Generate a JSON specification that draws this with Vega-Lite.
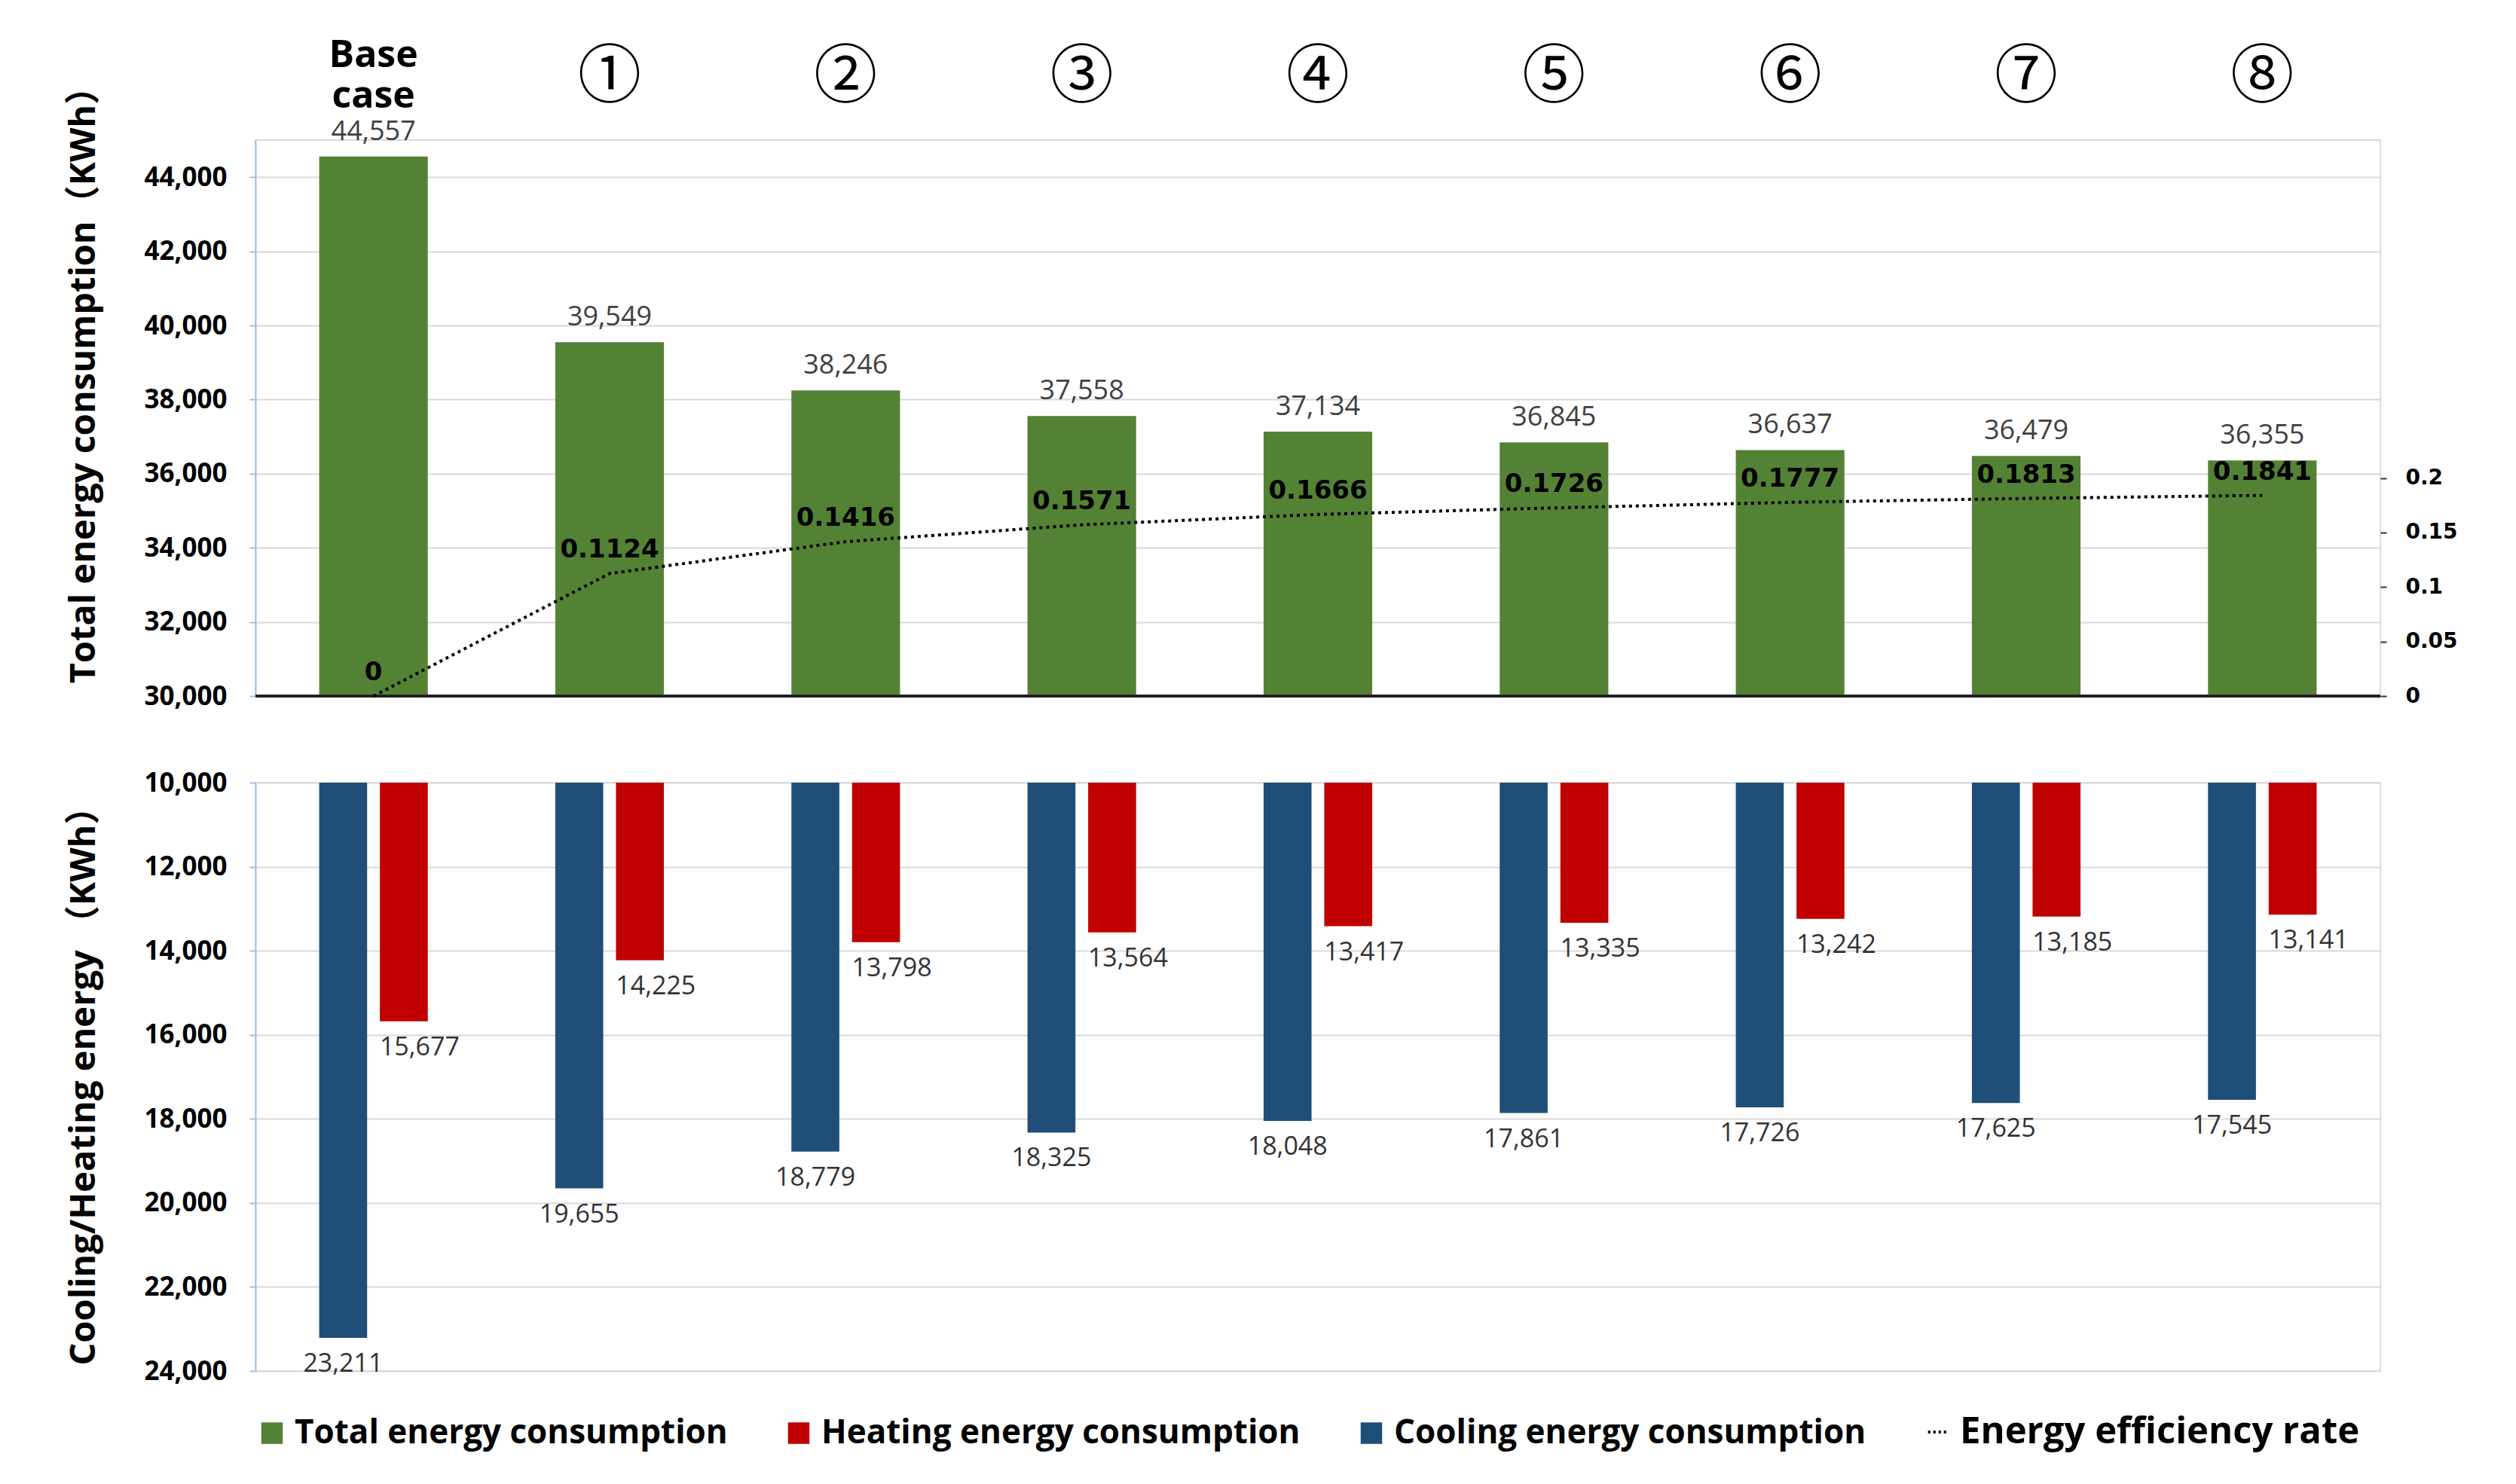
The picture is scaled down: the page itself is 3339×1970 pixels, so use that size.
{
  "$schema": "https://vega.github.io/schema/vega-lite/v6.json",
  "background": "white",
  "padding": {"left": 86, "top": 47, "right": 30, "bottom": 20},
  "bounds": "flush",
  "spacing": 115,
  "datasets": {
    "total": [
      {"case": "Base case", "total": 44557, "eff": 0},
      {"case": "①", "total": 39549, "eff": 0.1124},
      {"case": "②", "total": 38246, "eff": 0.1416},
      {"case": "③", "total": 37558, "eff": 0.1571},
      {"case": "④", "total": 37134, "eff": 0.1666},
      {"case": "⑤", "total": 36845, "eff": 0.1726},
      {"case": "⑥", "total": 36637, "eff": 0.1777},
      {"case": "⑦", "total": 36479, "eff": 0.1813},
      {"case": "⑧", "total": 36355, "eff": 0.1841}
    ],
    "ch": [
      {"case": "Base case", "type": "Cooling energy consumption", "value": 23211},
      {"case": "Base case", "type": "Heating energy consumption", "value": 15677},
      {"case": "①", "type": "Cooling energy consumption", "value": 19655},
      {"case": "①", "type": "Heating energy consumption", "value": 14225},
      {"case": "②", "type": "Cooling energy consumption", "value": 18779},
      {"case": "②", "type": "Heating energy consumption", "value": 13798},
      {"case": "③", "type": "Cooling energy consumption", "value": 18325},
      {"case": "③", "type": "Heating energy consumption", "value": 13564},
      {"case": "④", "type": "Cooling energy consumption", "value": 18048},
      {"case": "④", "type": "Heating energy consumption", "value": 13417},
      {"case": "⑤", "type": "Cooling energy consumption", "value": 17861},
      {"case": "⑤", "type": "Heating energy consumption", "value": 13335},
      {"case": "⑥", "type": "Cooling energy consumption", "value": 17726},
      {"case": "⑥", "type": "Heating energy consumption", "value": 13242},
      {"case": "⑦", "type": "Cooling energy consumption", "value": 17625},
      {"case": "⑦", "type": "Heating energy consumption", "value": 13185},
      {"case": "⑧", "type": "Cooling energy consumption", "value": 17545},
      {"case": "⑧", "type": "Heating energy consumption", "value": 13141}
    ]
  },
  "config": {
    "view": {"stroke": "#d9dde3", "strokeWidth": 2},
    "font": "Open Sans",
    "axis": {"gridColor": "#d9d9d9", "gridWidth": 2}
  },
  "vconcat": [
    {
      "width": 2820,
      "height": 738,
      "data": {"name": "total"},
      "layer": [
        {
          "layer": [
            {
              "mark": {"type": "bar"},
              "encoding": {
                "x": {
                  "field": "case", "type": "nominal", "sort": null,
                  "scale": {"paddingInner": 0.54, "paddingOuter": 0.27},
                  "axis": {
                    "orient": "top", "domain": false, "ticks": false, "grid": false, "title": null,
                    "labelAngle": 0,
                    "labelFont": "Open Sans, Noto Sans CJK JP",
                    "labelFontSize": {"condition": {"test": "datum.value === 'Base case'", "value": 50}, "value": 84},
                    "labelFontWeight": {"condition": {"test": "datum.value === 'Base case'", "value": "bold"}, "value": "normal"},
                    "labelPadding": {"condition": {"test": "datum.value === 'Base case'", "value": 88}, "value": 40},
                    "labelColor": "#000",
                    "labelExpr": "datum.value === 'Base case' ? ['Base','case'] : datum.value",
                    "labelLineHeight": 54
                  }
                },
                "y": {
                  "field": "total", "type": "quantitative",
                  "scale": {"domain": [30000, 45000], "zero": false, "nice": false},
                  "axis": {
                    "values": [30000, 32000, 34000, 36000, 38000, 40000, 42000, 44000],
                    "labelExpr": "format(datum.value, ',')",
                    "domainColor": "#9dc3e6", "domainWidth": 2,
                    "tickColor": "#9dc3e6", "tickSize": 8, "tickWidth": 2,
                    "labelFontSize": 35, "labelFontWeight": "bold", "labelColor": "#000", "labelPadding": 30,
                    "title": "Total energy consumption（KWh）",
                    "titleFont": "Open Sans, Noto Sans CJK SC", "titleFontSize": 47, "titleFontWeight": "bold", "titleColor": "#000",
                    "titlePadding": 55, "titleY": 313
                  }
                },
                "y2": {"datum": 30000},
                "color": {
                  "datum": "Total energy consumption",
                  "scale": {
                    "domain": ["Total energy consumption", "Heating energy consumption", "Cooling energy consumption", "Energy efficiency rate"],
                    "range": ["#548235", "#C00000", "#1F4E79", "#000000"]
                  }
                }
              }
            },
            {
              "mark": {"type": "text", "baseline": "bottom", "dy": -14, "fontSize": 36, "color": "#404040"},
              "encoding": {
                "x": {"field": "case", "type": "nominal", "sort": null},
                "y": {"field": "total", "type": "quantitative"},
                "text": {"field": "total", "format": ","}
              }
            },
            {
              "mark": {"type": "rule", "color": "#222", "strokeWidth": 3},
              "encoding": {"y": {"datum": 30000}}
            }
          ]
        },
        {
          "layer": [
            {
              "mark": {"type": "line", "strokeDash": [4, 5], "strokeWidth": 4},
              "encoding": {
                "x": {"field": "case", "type": "nominal", "sort": null},
                "y": {
                  "field": "eff", "type": "quantitative",
                  "scale": {"domain": [0, 0.51], "nice": false, "zero": true},
                  "axis": {
                    "orient": "right", "values": [0, 0.05, 0.1, 0.15, 0.2],
                    "labelExpr": "format(datum.value, '~g')",
                    "grid": false, "domain": false,
                    "tickColor": "#333", "tickSize": 8, "tickWidth": 2,
                    "labelFont": "DejaVu Sans", "labelFontSize": 28, "labelFontWeight": "bold", "labelColor": "#000",
                    "labelPadding": 25, "title": null
                  }
                },
                "color": {"datum": "Energy efficiency rate"}
              }
            },
            {
              "mark": {"type": "text", "baseline": "bottom", "dy": -14, "font": "DejaVu Sans", "fontSize": 34, "fontWeight": "bold", "color": "#000"},
              "encoding": {
                "x": {"field": "case", "type": "nominal", "sort": null},
                "y": {"field": "eff", "type": "quantitative"},
                "text": {"field": "eff", "format": "~g"}
              }
            }
          ]
        }
      ],
      "resolve": {"scale": {"y": "independent"}}
    },
    {
      "width": 2820,
      "height": 781,
      "data": {"name": "ch"},
      "encoding": {
        "x": {
          "field": "case", "type": "nominal", "sort": null,
          "scale": {"paddingInner": 0.54, "paddingOuter": 0.27},
          "axis": null
        },
        "xOffset": {
          "field": "type", "type": "nominal",
          "sort": ["Cooling energy consumption", "Heating energy consumption"],
          "scale": {"paddingInner": 0.21, "paddingOuter": 0}
        },
        "y": {
          "field": "value", "type": "quantitative",
          "scale": {"domain": [10000, 24000], "reverse": true, "nice": false, "zero": false},
          "axis": {
            "values": [10000, 12000, 14000, 16000, 18000, 20000, 22000, 24000],
            "labelExpr": "format(datum.value, ',')",
            "domainColor": "#9dc3e6", "domainWidth": 2,
            "tickColor": "#9dc3e6", "tickSize": 8, "tickWidth": 2,
            "labelFontSize": 35, "labelFontWeight": "bold", "labelColor": "#000", "labelPadding": 30,
            "title": "Cooling/Heating energy （KWh）",
            "titleFont": "Open Sans, Noto Sans CJK SC", "titleFontSize": 47, "titleFontWeight": "bold", "titleColor": "#000",
            "titlePadding": 55
          }
        }
      },
      "layer": [
        {
          "mark": {"type": "bar"},
          "encoding": {
            "y2": {"datum": 10000},
            "color": {
              "field": "type", "type": "nominal",
              "scale": {
                "domain": ["Total energy consumption", "Heating energy consumption", "Cooling energy consumption", "Energy efficiency rate"],
                "range": ["#548235", "#C00000", "#1F4E79", "#000000"]
              },
              "legend": {
                "orient": "bottom", "direction": "horizontal", "columns": 4, "title": null,
                "symbolSize": 600, "symbolType": "square",
                "labelFontSize": 44, "labelFontWeight": "bold", "labelColor": "#000", "labelLimit": 0,
                "labelOffset": 8, "columnPadding": 72, "offset": 40,
                "encode": {
                  "labels": {
                    "update": {
                      "fontSize": {"signal": "datum.value === 'Energy efficiency rate' ? 49 : 44"}
                    }
                  },
                  "symbols": {
                    "update": {
                      "shape": {"signal": "datum.value === 'Energy efficiency rate' ? 'stroke' : 'square'"},
                      "fill": {"signal": "datum.value === 'Energy efficiency rate' ? 'transparent' : scale('color', datum.value)"},
                      "stroke": {"signal": "datum.value === 'Energy efficiency rate' ? '#000' : 'transparent'"},
                      "strokeDash": {"signal": "datum.value === 'Energy efficiency rate' ? [3, 4] : [1, 0]"},
                      "strokeWidth": {"value": 4},
                      "opacity": {"value": 1}
                    }
                  }
                }
              }
            }
          }
        },
        {
          "transform": [{"filter": "datum.type === 'Cooling energy consumption'"}],
          "mark": {"type": "text", "baseline": "top", "dy": 18, "fontSize": 34, "color": "#333"},
          "encoding": {"text": {"field": "value", "format": ","}}
        },
        {
          "transform": [{"filter": "datum.type === 'Heating energy consumption'"}],
          "mark": {"type": "text", "baseline": "top", "dy": 18, "dx": -32, "align": "left", "fontSize": 34, "color": "#333"},
          "encoding": {"text": {"field": "value", "format": ","}}
        }
      ]
    }
  ]
}
